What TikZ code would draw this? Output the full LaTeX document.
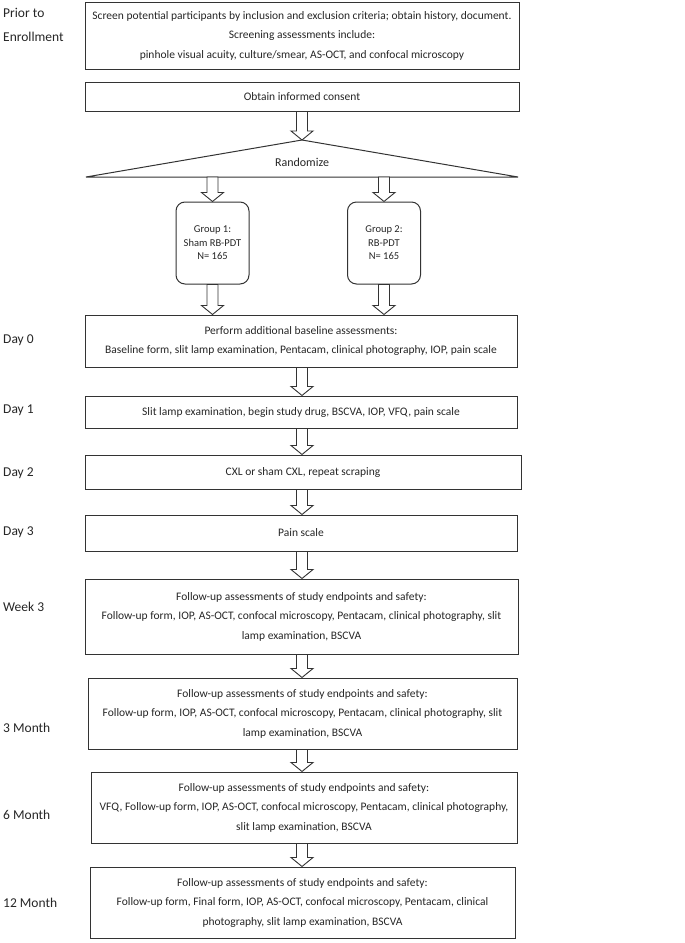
\documentclass[tikz,border=0pt]{standalone}
\usepackage{fontspec}
\setmainfont{Carlito}
\usetikzlibrary{calc}

\newcommand{\hollowarrow}[2]{%
	\draw[hollow] let \p1=(#1), \p2=(#2) in (\x1-5.5pt,\y1) -- (\x1+5.5pt,\y1) -- (\x1+5.5pt,\y2+9pt) -- (\x1+11pt,\y2+9pt) -- (\x1,\y2) -- (\x1-11pt,\y2+9pt) -- (\x1-5.5pt,\y2+9pt) -- cycle;}

\begin{document}
\begin{tikzpicture}[x=1pt,y=-1pt,
		stage/.style={draw=black!80,line width=1pt,align=center,inner sep=0pt,text=black!85,font=\fontsize{11.5}{19.5}\selectfont},
		group/.style={draw=black!80,line width=1pt,rounded corners=9pt,align=center,inner sep=0pt,text=black!85,font=\fontsize{10.5}{13.5}\selectfont,minimum width=73,minimum height=82},
		when/.style={anchor=west,align=left,inner sep=0pt,text=black!85,font=\fontsize{13.5}{24}\selectfont},
		hollow/.style={draw=black!80,line width=0.9pt,fill=white}]
	\useasboundingbox (0,0) rectangle (685,943);

	\node[stage,minimum width=434,minimum height=67] (screen) at (302,35.5) {Screen potential participants by inclusion and exclusion criteria; obtain history, document.\\Screening assessments include:\\pinhole visual acuity, culture/smear, AS-OCT, and confocal microscopy};
	\node[stage,minimum width=434,minimum height=29] (consent) at (302,96.5) {Obtain informed consent};

	\coordinate (rapex) at (302,140);
	\coordinate (rleft) at (86,177);
	\coordinate (rright) at (518,177);
	\draw[draw=black!80,line width=1pt] (rleft) -- (rapex) -- (rright) -- cycle;
	\node[text=black!85,font=\fontsize{12}{14}\selectfont] (randomize) at (302,162) {Randomize};

	\node[group] (group1) at (212.5,243) {Group 1:\\Sham RB-PDT\\N= 165};
	\node[group] (group2) at (384,243) {Group 2:\\RB-PDT\\N= 165};

	\node[stage,minimum width=432,minimum height=52] (day0) at (301,341) {Perform additional baseline assessments:\\Baseline form, slit lamp examination, Pentacam, clinical photography, IOP, pain scale};
	\node[stage,minimum width=432,minimum height=32] (day1) at (301,412) {Slit lamp examination, begin study drug, BSCVA, IOP, VFQ, pain scale};
	\node[stage,minimum width=436,minimum height=34] (day2) at (303,472) {CXL or sham CXL, repeat scraping};
	\node[stage,minimum width=432,minimum height=36] (day3) at (301,533) {Pain scale};
	\node[stage,minimum width=433,minimum height=75] (week3) at (301.5,616.5) {Follow-up assessments of study endpoints and safety:\\Follow-up form, IOP, AS-OCT, confocal microscopy, Pentacam, clinical photography, slit\\lamp examination, BSCVA};
	\node[stage,minimum width=429,minimum height=71] (month3) at (302.5,713.5) {Follow-up assessments of study endpoints and safety:\\Follow-up form, IOP, AS-OCT, confocal microscopy, Pentacam, clinical photography, slit\\lamp examination, BSCVA};
	\node[stage,minimum width=426,minimum height=71] (month6) at (304,807.5) {Follow-up assessments of study endpoints and safety:\\VFQ, Follow-up form, IOP, AS-OCT, confocal microscopy, Pentacam, clinical photography,\\slit lamp examination, BSCVA};
	\node[stage,minimum width=425,minimum height=71] (month12) at (302.5,902.5) {Follow-up assessments of study endpoints and safety:\\Follow-up form, Final form, IOP, AS-OCT, confocal microscopy, Pentacam, clinical\\photography, slit lamp examination, BSCVA};

	\node[when] (prior) at (3,25) {Prior to\\Enrollment};
	\foreach \y/\t/\n in {340/Day 0/lday0,410/Day 1/lday1,473/Day 2/lday2,532/Day 3/lday3,607/Week 3/lweek3,728/3 Month/lmonth3,815/6 Month/lmonth6,903/12 Month/lmonth12} {
		\node[when] (\n) at (3,\y) {\t};
	}

	\hollowarrow{consent.south}{rapex}
	\hollowarrow{group1.north |- rleft}{group1.north}
	\hollowarrow{group2.north |- rleft}{group2.north}
	\hollowarrow{group1.south}{group1.south |- day0.north}
	\hollowarrow{group2.south}{group2.south |- day0.north}
	\foreach \a/\b in {day0/day1,day1/day2,day2/day3,day3/week3,week3/month3,month3/month6,month6/month12} {
		\hollowarrow{\a.south -| 302,0}{302,0 |- \b.north}
	}
\end{tikzpicture}
\end{document}
